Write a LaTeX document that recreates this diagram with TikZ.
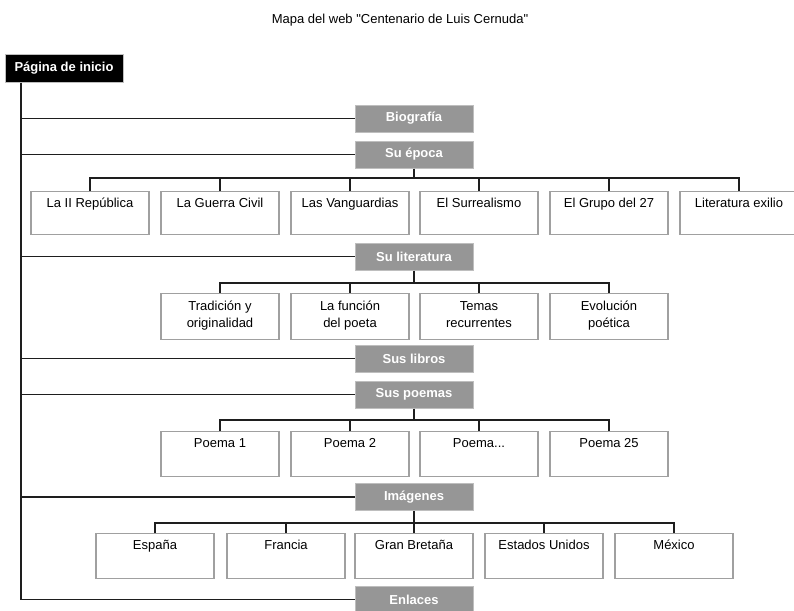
\documentclass[tikz,border=0pt]{standalone}
\usepackage{fontspec}
\setmainfont{Liberation Sans}
\definecolor{secfill}{RGB}{150,150,150}
\definecolor{secborder}{RGB}{190,190,190}
\definecolor{kidborder}{RGB}{160,160,160}
\definecolor{connc}{RGB}{30,30,30}
\begin{document}
\begin{tikzpicture}[x=1pt,y=-1pt,
  conn/.style={draw=connc, line width=1.7pt},
  secbox/.style={rectangle, draw=secborder, fill=secfill, line width=1pt,
    minimum width=118pt, minimum height=27pt, inner sep=0pt, text=white,
    font=\fontsize{13}{15}\selectfont\bfseries},
  homebox/.style={secbox, fill=black},
  kidbox/.style={rectangle, draw=kidborder, fill=white, line width=1.3pt,
    minimum width=118pt, anchor=north, inner sep=0pt},
  kidtext/.style={anchor=north, inner sep=0pt, align=center,
    font=\fontsize{13}{17}\selectfont},
  titletext/.style={font=\fontsize{13}{15}\selectfont, inner sep=0pt}]
\useasboundingbox (0,0) rectangle (794,610);

\node[titletext] (title) at (400,20) {Mapa del web \textquotedbl Centenario de Luis Cernuda\textquotedbl};

\node[homebox] (home) at (64,68.5) {Página de inicio};
\node[secbox] (bio) at (414,118.5) {Biografía};
\node[secbox] (epo) at (414,154.5) {Su época};
\node[secbox] (lit) at (414,256.5) {Su literatura};
\node[secbox] (lib) at (414,358.5) {Sus libros};
\node[secbox] (poe) at (414,394.5) {Sus poemas};
\node[secbox] (img) at (414,497) {Imágenes};
\node[secbox] (enl) at (414,599.5) {Enlaces};

% trunk
\path (home.south) ++(-43,0) coordinate (tr);
\draw[conn] (tr) |- (enl.west);
\foreach \n in {bio,epo,lit,lib,poe,img}
  \draw[conn] (tr |- \n.west) -- (\n.west);

% Su epoca children
\coordinate (eb) at (414,178);
\draw[conn] (epo.south) -- (eb);
\foreach \x/\t [count=\i] in {90/{La II República},220/{La Guerra Civil},350/{Las Vanguardias},479/{El Surrealismo},609/{El Grupo del 27},739/{Literatura exilio}}{
  \draw[conn] (eb) -| (\x,191);
  \node[kidbox, minimum height=43pt] (e\i) at (\x,191) {};
  \node[kidtext] (et\i) at ([yshift=-4pt]e\i.north) {\strut\t};
}

% Su literatura children
\coordinate (lb) at (414,283);
\draw[conn] (lit.south) -- (lb);
\foreach \x/\t [count=\i] in {220/{Tradición y\\originalidad},350/{La función\\del poeta},479/{Temas\\recurrentes},609/{Evolución\\poética}}{
  \draw[conn] (lb) -| (\x,293);
  \node[kidbox, minimum height=46pt] (l\i) at (\x,293) {};
  \node[kidtext] (lt\i) at ([yshift=-5pt]l\i.north) {\strut\t};
}

% Sus poemas children
\coordinate (pb) at (414,420);
\draw[conn] (poe.south) -- (pb);
\foreach \x/\t [count=\i] in {220/{Poema 1},350/{Poema 2},479/{Poema...},609/{Poema 25}}{
  \draw[conn] (pb) -| (\x,431);
  \node[kidbox, minimum height=45pt] (p\i) at (\x,431) {};
  \node[kidtext] (pt\i) at ([yshift=-4pt]p\i.north) {\strut\t};
}

% Imagenes children
\coordinate (ib) at (414,523);
\draw[conn] (img.south) -- (ib);
\foreach \x/\t [count=\i] in {155/{España},286/{Francia},414/{Gran Bretaña},544/{Estados Unidos},674/{México}}{
  \draw[conn] (ib) -| (\x,533);
  \node[kidbox, minimum height=45pt] (i\i) at (\x,533) {};
  \node[kidtext] (it\i) at ([yshift=-4pt]i\i.north) {\strut\t};
}
\end{tikzpicture}
\end{document}
